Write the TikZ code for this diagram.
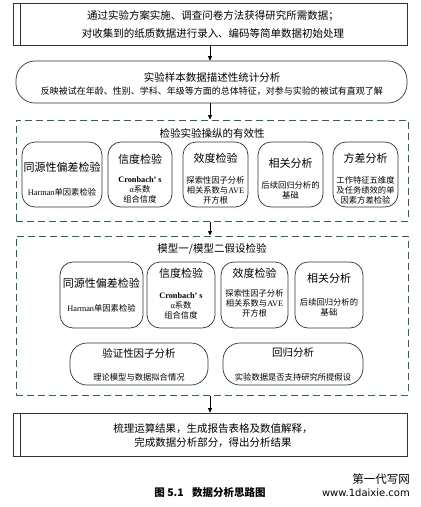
\documentclass[tikz,border=0pt]{standalone}
\usepackage{fontspec}
\setmainfont{Liberation Serif}
\newfontfamily\cjk{Noto Sans CJK SC}
\newfontfamily\lat{Liberation Serif}
\newfontfamily\wsans{DejaVu Sans}
\usetikzlibrary{arrows.meta}
\definecolor{dteal}{HTML}{2F5D6B}
\definecolor{boxline}{HTML}{333333}
\tikzset{
  sqbox/.style={draw=boxline, line width=0.7pt, inner sep=0pt},
  stad/.style={draw=boxline, line width=0.7pt, rounded corners=19pt, inner sep=0pt},
  rbox/.style={draw=boxline, line width=0.7pt, rounded corners=13pt, inner sep=0pt},
  wbox/.style={draw=boxline, line width=0.7pt, rounded corners=17pt, inner sep=0pt},
  dbox/.style={draw=dteal, line width=1pt, dash pattern=on 7pt off 4pt, inner sep=0pt},
  flow/.style={-{Triangle[length=4.5pt,width=4pt]}, line width=0.7pt, black},
  ttl/.style={font=\cjk\fontsize{10.5}{12}\selectfont, inner sep=0pt},
  btl/.style={font=\cjk\fontsize{11}{13}\selectfont, inner sep=0pt},
  bdy/.style={font=\cjk\fontsize{8.3}{10}\selectfont, inner sep=0pt, align=center},
}
\begin{document}
\begin{tikzpicture}[x=1pt,y=1pt]
\useasboundingbox (0,0) rectangle (421,-507);
% top box
\node[sqbox, minimum width=394pt, minimum height=42pt] (top) at (210,-24) {};
\coordinate (ta) at (20,-3); \coordinate (tb) at (20,-45);
\draw[boxline, line width=0.7pt] (ta) -- (tb);
\node[ttl] (t1) at (213,-16) {通过实验方案实施、调查问卷方法获得研究所需数据；};
\node[ttl] (t2) at (213,-33) {对收集到的纸质数据进行录入、编码等简单数据初始处理};
% stadium
\node[stad, minimum width=391pt, minimum height=42pt] (st) at (211.5,-82) {};
\node[ttl] (s1) at (212,-77) {实验样本数据描述性统计分析};
\node[font=\cjk\fontsize{9}{10}\selectfont, inner sep=0pt] (s2) at (212,-91) {反映被试在年龄、性别、学科、年级等方面的总体特征，对参与实验的被试有直观了解};
% dashed box 1
\node[dbox, minimum width=392pt, minimum height=101pt] (d1) at (212,-170.5) {};
\node[ttl] (d1t) at (212,-133) {检验实验操纵的有效性};
\node[rbox, minimum width=80pt, minimum height=65pt] (a1) at (62,-174.5) {};
\node[btl] at (62,-167) {同源性偏差检验};
\node[bdy] at (62,-192) {{\lat Harman}单因素检验};
\node[rbox, minimum width=64pt, minimum height=65pt] (a2) at (140,-174.5) {};
\node[btl] at (140,-159) {信度检验};
\node[bdy] at (140,-190) {{\lat\bfseries Cronbach’ s}\\{\lat α}系数\\组合信度};
\node[rbox, minimum width=65pt, minimum height=65pt] (a3) at (215.5,-174.5) {};
\node[btl] at (215.5,-158) {效度检验};
\node[bdy] at (215.5,-190.5) {探索性因子分析\\相关系数与{\lat AVE}\\开方根};
\node[rbox, minimum width=65pt, minimum height=65pt] (a4) at (290.5,-174.5) {};
\node[btl] at (290.5,-163) {相关分析};
\node[bdy] at (290.5,-190) {后续回归分析的\\基础};
\node[rbox, minimum width=65pt, minimum height=65pt] (a5) at (365.5,-174.5) {};
\node[btl] at (365.5,-158) {方差分析};
\node[bdy] at (365.5,-190) {工作特征五维度\\及任务绩效的单\\因素方差检验};
% dashed box 2
\node[dbox, minimum width=392pt, minimum height=159pt] (d2) at (212,-315.5) {};
\node[ttl] (d2t) at (212,-249) {模型一/模型二假设检验};
\node[rbox, minimum width=83pt, minimum height=66pt] (b1) at (101.5,-295) {};
\node[btl] at (101.5,-283) {同源性偏差检验};
\node[bdy] at (101.5,-308) {{\lat Harman}单因素检验};
\node[rbox, minimum width=68pt, minimum height=66pt] (b2) at (181,-295) {};
\node[btl] at (181,-273) {信度检验};
\node[bdy] at (181,-306) {{\lat\bfseries Cronbach’ s}\\{\lat α}系数\\组合信度};
\node[rbox, minimum width=67pt, minimum height=66pt] (b3) at (254.5,-295) {};
\node[btl] at (254.5,-273) {效度检验};
\node[bdy] at (254.5,-303.5) {探索性因子分析\\相关系数与{\lat AVE}\\开方根};
\node[rbox, minimum width=68pt, minimum height=66pt] (b4) at (329,-295) {};
\node[btl] at (329,-278) {相关分析};
\node[bdy] at (329,-307) {后续回归分析的\\基础};
\node[wbox, minimum width=138pt, minimum height=42pt] (c1) at (139,-364) {};
\node[ttl] at (139,-353) {验证性因子分析};
\node[bdy] at (139,-377) {理论模型与数据拟合情况};
\node[wbox, minimum width=140pt, minimum height=42pt] (c2) at (293,-364) {};
\node[ttl] at (293,-353) {回归分析};
\node[bdy] at (293,-377) {实验数据是否支持研究所提假设};
% bottom box
\node[sqbox, minimum width=394pt, minimum height=43pt] (bot) at (210,-434.5) {};
\coordinate (ba) at (20,-413); \coordinate (bb) at (20,-456);
\draw[boxline, line width=0.7pt] (ba) -- (bb);
\node[ttl] (e1) at (213,-429) {梳理运算结果，生成报告表格及数值解释，};
\node[ttl] (e2) at (213,-443) {完成数据分析部分，得出分析结果};
% arrows
\draw[flow] (top.south) -- (top.south |- st.north);
\draw[flow] (top.south |- st.south) -- (top.south |- d1.north);
\draw[flow] (top.south |- d1.south) -- (top.south |- d2.north);
\draw[flow] (top.south |- d2.south) -- (bot.north);
% caption and watermark
\node[font=\cjk\bfseries\fontsize{10.5}{12}\selectfont, inner sep=0pt] (cap) at (210,-493) {图 5.1\hspace{0.8em}数据分析思路图};
\node[font=\cjk\fontsize{11.5}{12}\selectfont, inner sep=0pt, anchor=east] (w1) at (410,-479) {第一代写网};
\node[font=\wsans\fontsize{10}{11}\selectfont, inner sep=0pt, anchor=east] (w2) at (410,-493) {www.1daixie.com};
\end{tikzpicture}
\end{document}
